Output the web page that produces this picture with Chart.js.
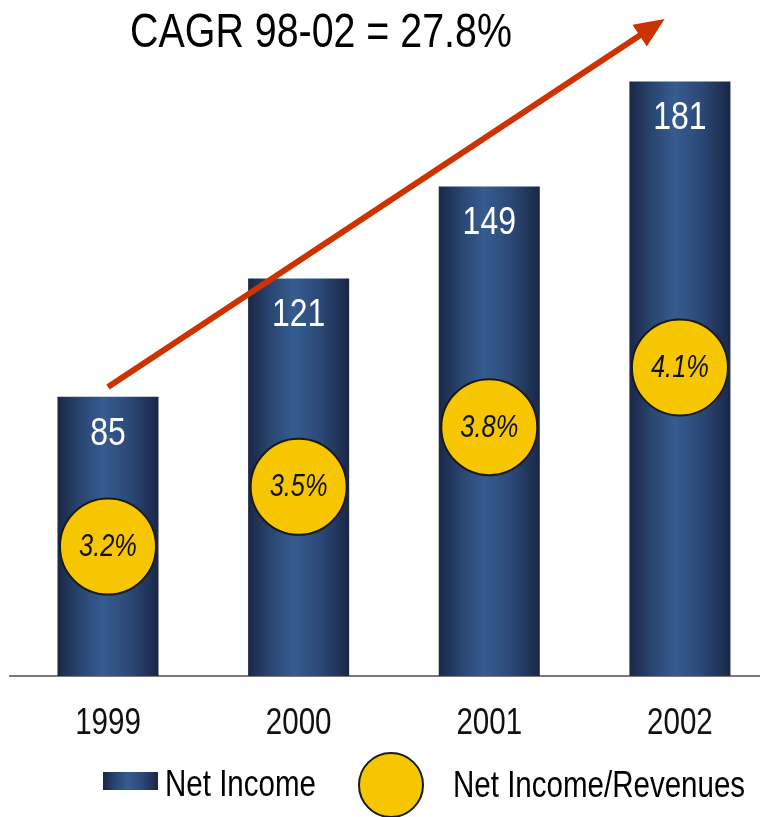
<!DOCTYPE html>
<html>
<head>
<meta charset="utf-8">
<title>Net Income</title>
<script src="https://cdn.jsdelivr.net/npm/chart.js@4.4.1/dist/chart.umd.min.js"></script>
<style>
    html, body { margin: 0; padding: 0; background: #fff; overflow: hidden; }
    #wrap { width: 760px; height: 817px; position: relative; }
</style>
</head>
<body>
<div id="wrap"><canvas id="incomeChart"></canvas></div>
<script>
// Net income per year (bars) and net income as a share of revenues (circles)
const years = [1999, 2000, 2001, 2002];
const netIncome = [85, 121, 149, 181];
const incomeRatio = [3.2, 3.5, 3.8, 4.1];

// Growth arrow over the bars, in axis units
const cagrLabel = 'CAGR 98-02 = 27.8%';
const arrowFrom = { x: 1999, y: 88 };
const arrowTo = { x: 2001.92, y: 200 };

// no narrow face installed, so text is squeezed horizontally
const FONT = "'Liberation Sans', Arial, sans-serif";
const NARROW = 0.82;
const BAR_PCT = 0.53;
const GOLD = '#f6c600';
const OUTLINE = '#1a1a1a';

function narrowText(ctx, text, x, y, font, align) {
    ctx.save();
    ctx.font = font;
    ctx.textAlign = align || 'center';
    ctx.textBaseline = 'middle';
    ctx.translate(x, y);
    ctx.scale(NARROW, 1);
    ctx.fillText(text, 0, 0);
    ctx.restore();
}

// dark edges, lighter middle - gives the bars a rounded look
function barGradient(ctx, left, right) {
    const g = ctx.createLinearGradient(left, 0, right, 0);
    g.addColorStop(0, '#1a2745');
    g.addColorStop(0.22, '#294571');
    g.addColorStop(0.45, '#365c90');
    g.addColorStop(0.72, '#2b4877');
    g.addColorStop(1, '#1a2745');
    return g;
}

function drawArrow(ctx, x0, y0, x1, y1) {
    const ang = Math.atan2(y1 - y0, x1 - x0);
    const cos = Math.cos(ang), sin = Math.sin(ang);
    const head = 30, half = 13;
    ctx.strokeStyle = '#cc3300';
    ctx.fillStyle = '#cc3300';
    ctx.lineWidth = 6;
    ctx.beginPath();
    ctx.moveTo(x0, y0);
    ctx.lineTo(x1 - cos * head * 0.8, y1 - sin * head * 0.8);
    ctx.stroke();
    ctx.beginPath();
    ctx.moveTo(x1, y1);
    ctx.lineTo(x1 - cos * head + sin * half, y1 - sin * head - cos * half);
    ctx.lineTo(x1 - cos * head - sin * half, y1 - sin * head + cos * half);
    ctx.closePath();
    ctx.fill();
}

// Labels, arrow, heading, year ticks and the legend row
const decorations = {
    id: 'decorations',
    afterDatasetsDraw(chart) {
        const { ctx, scales } = chart;
        const circles = chart.getDatasetMeta(0).data;
        const bars = chart.getDatasetMeta(1).data;

        ctx.save();
        // value at the top of each bar
        ctx.fillStyle = '#ffffff';
        bars.forEach((bar, i) => narrowText(ctx, String(netIncome[i]), bar.x, bar.y + 37, '39px ' + FONT));

        // ratio inside each circle
        ctx.fillStyle = '#111111';
        circles.forEach((pt, i) => narrowText(ctx, incomeRatio[i].toFixed(1) + '%', pt.x, pt.y + 1, 'italic 31px ' + FONT));

        drawArrow(ctx,
            scales.x.getPixelForValue(arrowFrom.x), scales.y.getPixelForValue(arrowFrom.y),
            scales.x.getPixelForValue(arrowTo.x), scales.y.getPixelForValue(arrowTo.y));

        // year labels under the axis
        ctx.fillStyle = '#111111';
        scales.x.ticks.forEach((t) => {
            narrowText(ctx, String(t.value), scales.x.getPixelForValue(t.value), scales.x.top + 48, '36px ' + FONT);
        });

        // heading
        ctx.fillStyle = '#000000';
        narrowText(ctx, cagrLabel, 321, 34, '48px ' + FONT);
        ctx.restore();
    },
    afterDraw(chart) {
        const { ctx } = chart;
        const sets = chart.data.datasets;
        ctx.save();

        // bar swatch
        ctx.fillStyle = barGradient(ctx, 103, 158);
        ctx.fillRect(103, 772, 55, 18);
        ctx.fillStyle = '#000000';
        narrowText(ctx, sets[1].label, 165, 786, '36px ' + FONT, 'left');

        // circle swatch
        ctx.beginPath();
        ctx.arc(391, 785, 32, 0, Math.PI * 2);
        ctx.fillStyle = GOLD;
        ctx.fill();
        ctx.lineWidth = 2;
        ctx.strokeStyle = OUTLINE;
        ctx.stroke();
        ctx.fillStyle = '#000000';
        narrowText(ctx, sets[0].label, 453, 787, '36px ' + FONT, 'left');
        ctx.restore();
    }
};

new Chart(document.getElementById('incomeChart'), {
    type: 'bar',
    data: {
        datasets: [{
            type: 'scatter',
            label: 'Net Income/Revenues',
            data: years.map((yr, i) => ({ x: yr, y: incomeRatio[i] })),
            yAxisID: 'y2',
            pointRadius: 48,
            pointHoverRadius: 48,
            pointBackgroundColor: GOLD,
            pointBorderColor: OUTLINE,
            pointBorderWidth: 2,
            pointHoverBorderWidth: 2
        }, {
            type: 'bar',
            label: 'Net Income',
            data: years.map((yr, i) => ({ x: yr, y: netIncome[i] })),
            yAxisID: 'y',
            categoryPercentage: 1,
            barPercentage: BAR_PCT,
            backgroundColor: (c) => {
                const x = c.chart.scales.x;
                if (!x || !c.chart.chartArea) return '#2b4877';
                const step = x.getPixelForValue(years[1]) - x.getPixelForValue(years[0]);
                const cx = x.getPixelForValue(years[c.dataIndex]);
                const half = step * BAR_PCT / 2;
                return barGradient(c.chart.ctx, cx - half, cx + half);
            }
        }]
    },
    options: {
        responsive: true,
        maintainAspectRatio: false,
        animation: false,
        events: [],
        layout: { autoPadding: false, padding: { top: 19, left: 10, right: 0, bottom: 133 } },
        plugins: {
            legend: { display: false },
            tooltip: { enabled: false }
        },
        scales: {
            x: {
                type: 'linear',
                offset: false,
                min: 1998.486,
                max: 2002.42,
                grid: { display: false },
                border: { display: true, color: '#7a7a7a', width: 2 },
                ticks: {
                    display: false,
                    stepSize: 1,
                    includeBounds: false
                }
            },
            y: { display: false, min: 0, max: 200 },
            y2: { display: false, min: 2.55, max: 5.85 }
        }
    },
    plugins: [decorations]
});
</script>
</body>
</html>
